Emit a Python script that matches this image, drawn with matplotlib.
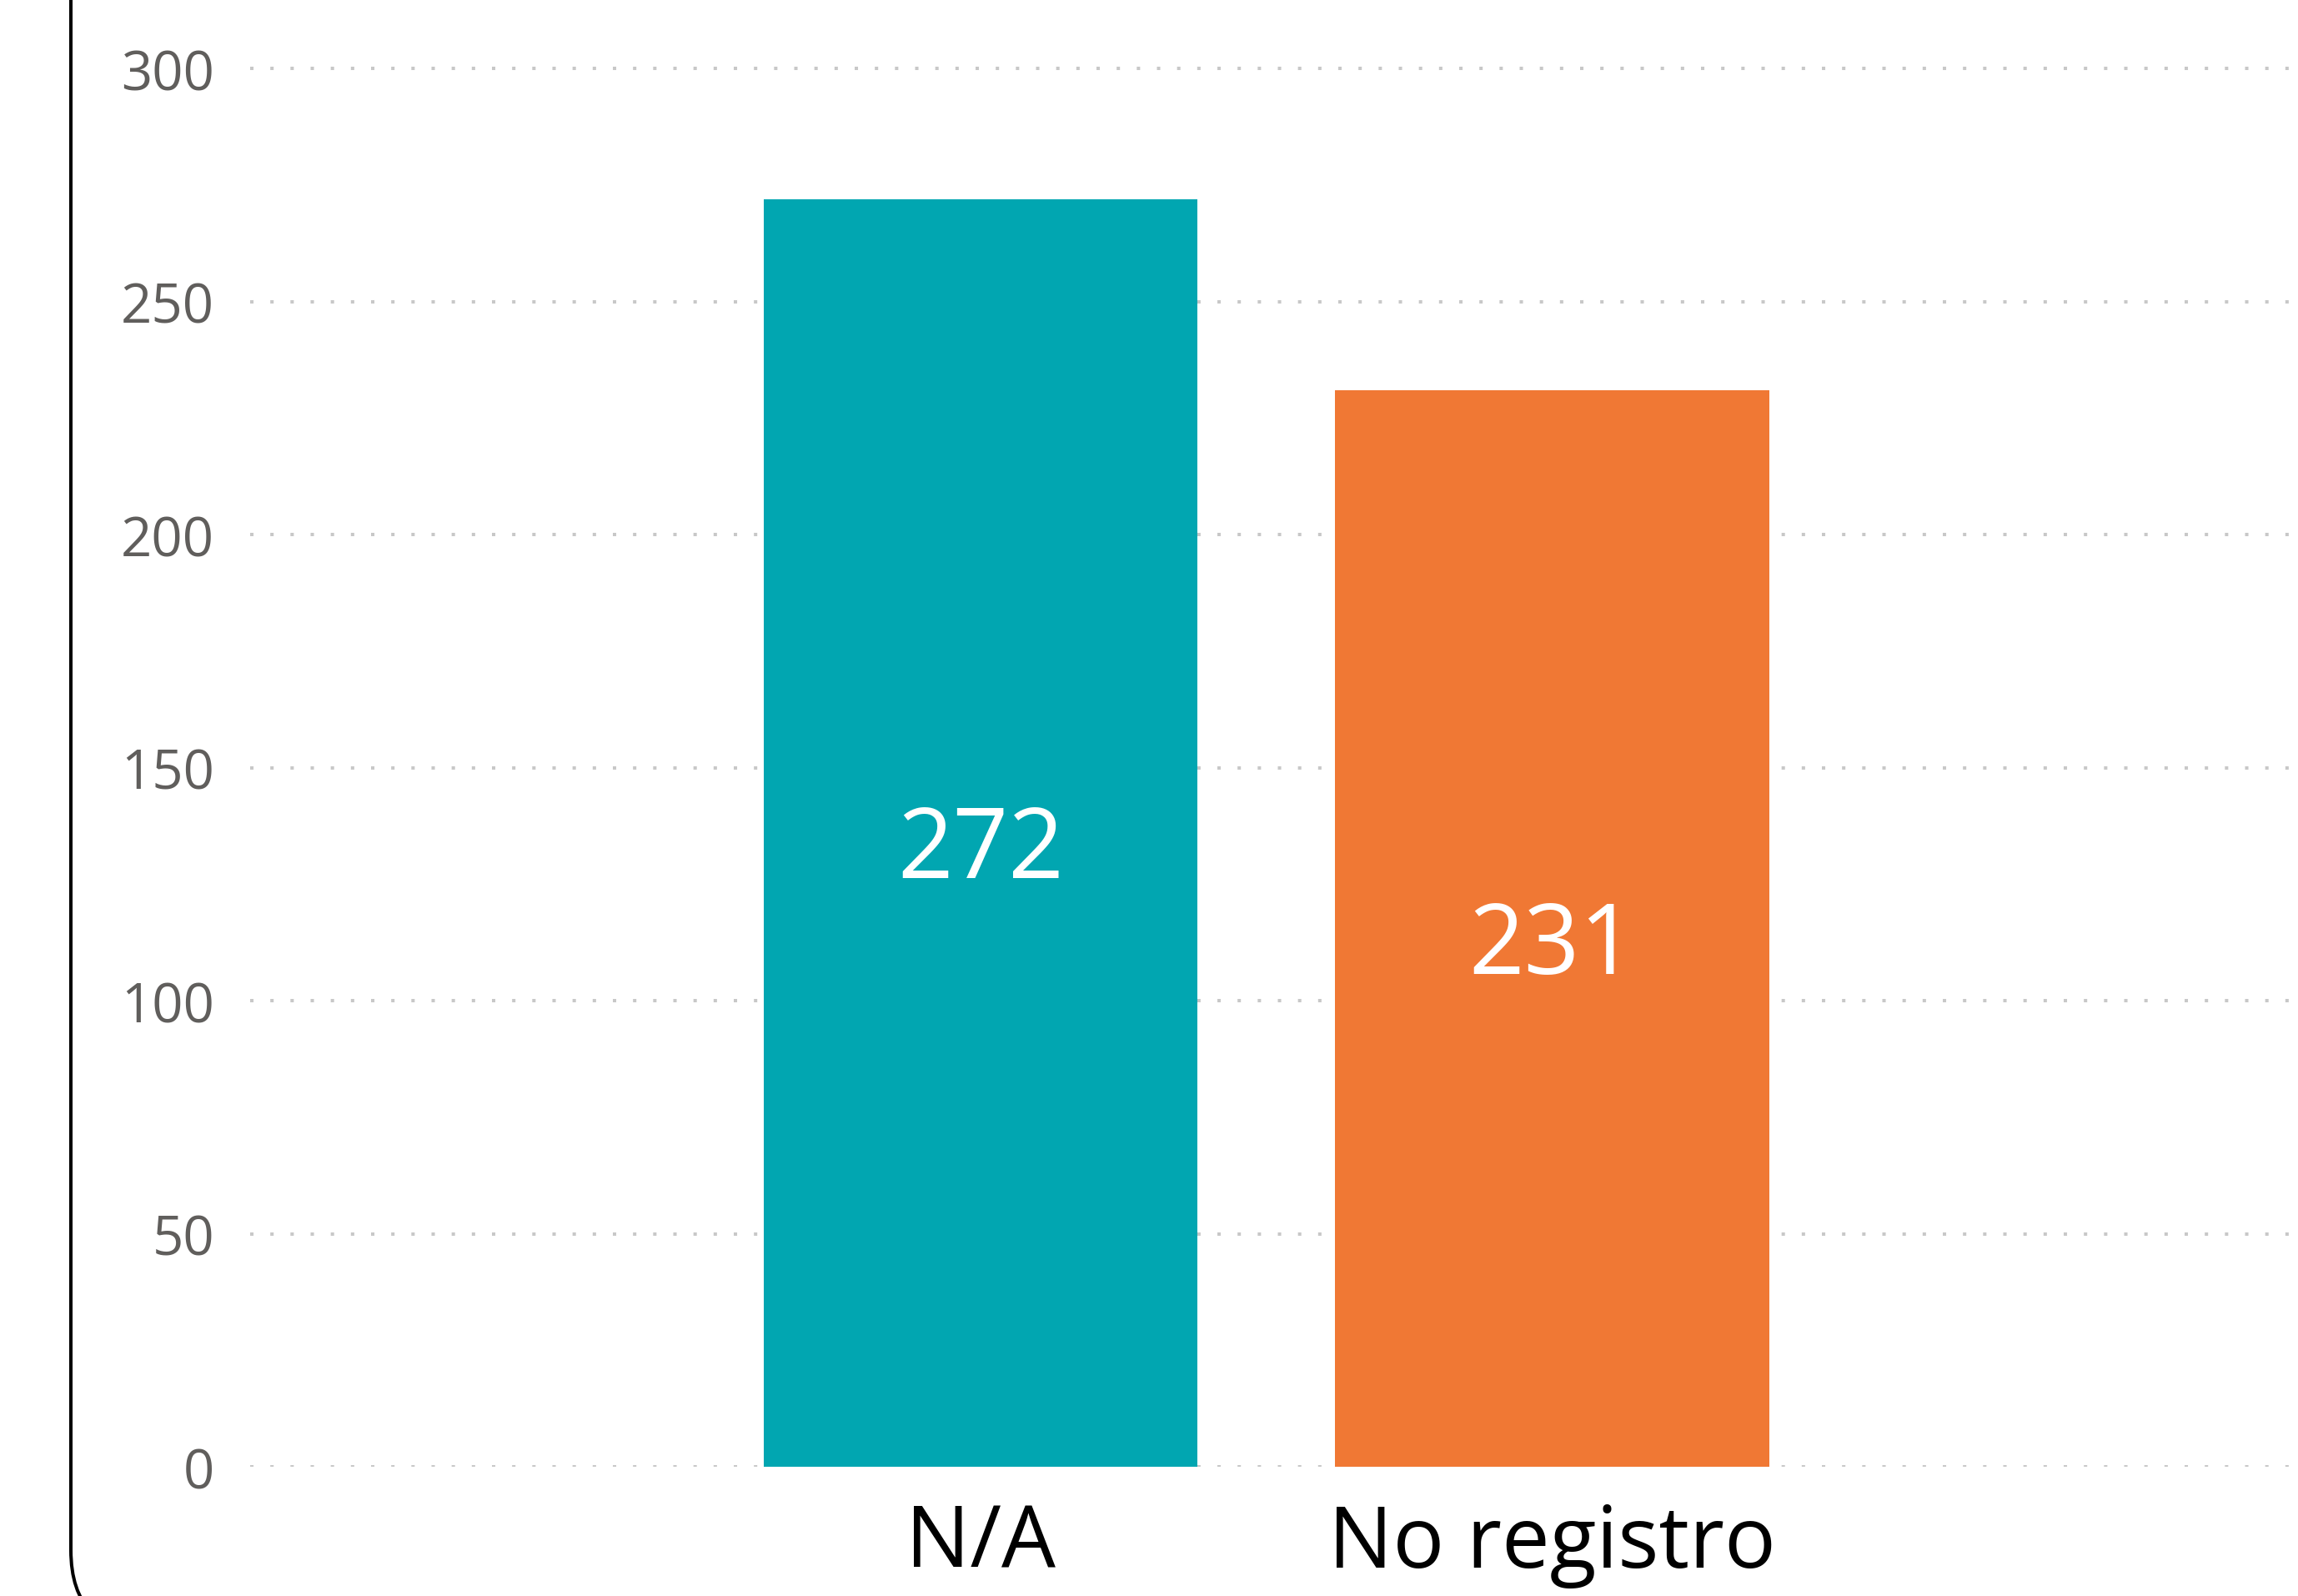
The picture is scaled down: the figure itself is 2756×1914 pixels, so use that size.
import matplotlib as mpl
mpl.use("Agg")
from matplotlib import pyplot as plt
from matplotlib.patches import FancyBboxPatch
from matplotlib.transforms import IdentityTransform

plt.rcParams["font.family"] = ["Open Sans", "DejaVu Sans"]

categories = ["N/A", "No registro"]
values = [272, 231]
bar_colors = ["#01A6B1", "#F07834"]
yticks = [0, 50, 100, 150, 200, 250, 300]


def main():
    fig = plt.figure(figsize=(27.56, 19.15), dpi=100)
    ax = fig.add_axes([0.1089, 0.0809, 0.8911, 0.8903])

    x = list(range(len(categories)))
    ax.bar(x, values, width=0.759, color=bar_colors, zorder=3)
    for xi, v in zip(x, values):
        ax.annotate(str(v), (xi, v / 2), xytext=(0, -6.5), textcoords="offset points",
                    ha="center", va="center_baseline",
                    color="white", fontsize=84, zorder=4)

    ax.set_xlim(-1.278, 2.305)
    ax.set_ylim(0, 305)
    ax.set_yticks(yticks)
    ax.set_xticks(x)
    ax.set_xticklabels(categories, fontsize=74, color="black")
    ax.tick_params(axis="x", length=0, pad=30)
    ax.tick_params(axis="y", length=0, pad=31, labelsize=47, labelcolor="#605E5C")

    ax.yaxis.grid(True, linestyle=(0, (1, 5)), linewidth=2.9, color="#C8C8C8")
    ax.set_axisbelow(True)
    for s in ax.spines.values():
        s.set_visible(False)

    # rounded card border, only its left side shows in the crop
    frame = FancyBboxPatch((85, -45), 3000, 2200,
                           boxstyle="round,pad=0,rounding_size=100",
                           transform=IdentityTransform(), fill=False,
                           linewidth=2.9, edgecolor="black")
    fig.add_artist(frame)

    fig.savefig("out.png", dpi=100)
    plt.close(fig)


if __name__ == '__main__':
    main()
